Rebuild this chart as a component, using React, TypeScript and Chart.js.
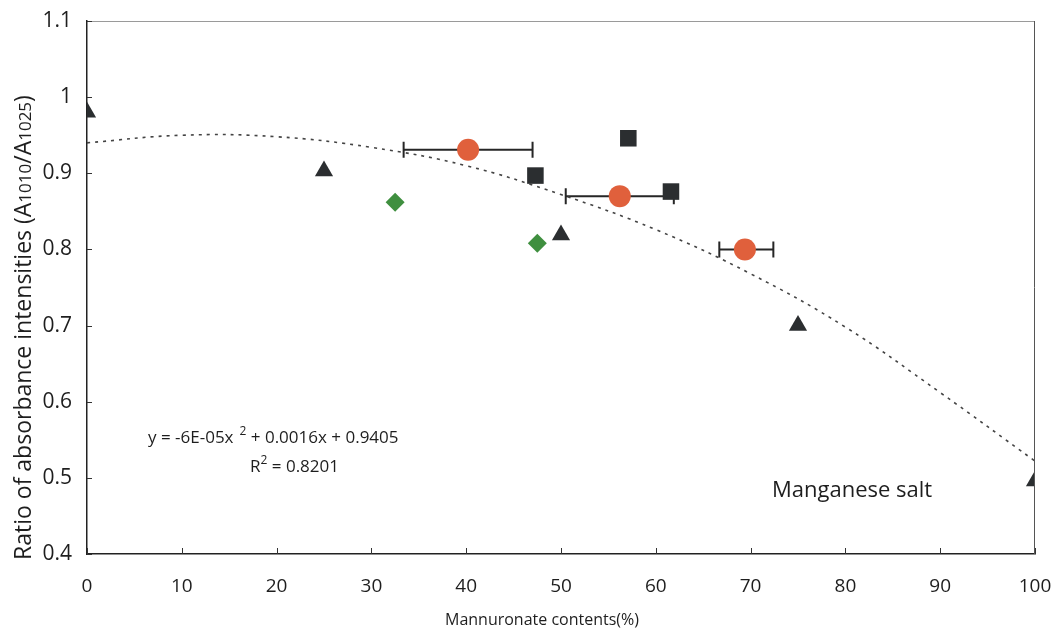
import React, { useEffect, useRef } from 'react';
import { Chart, registerables } from 'chart.js';

Chart.register(...registerables);

// ---- data ----
const triX = [0, 25, 50, 75, 100];
const triY = [0.98, 0.903, 0.819, 0.70, 0.496];

const sqX = [47.3, 57.1, 61.6];
const sqY = [0.897, 0.946, 0.876];

const diaX = [32.5, 47.5];
const diaY = [0.862, 0.808];

const circX = [40.2, 56.2, 69.4];
const circY = [0.931, 0.870, 0.800];
const errLow = [33.4, 50.5, 66.7];
const errHigh = [47.0, 61.9, 72.4];

const trendX = [0, 10, 20, 30, 40, 50, 60, 70, 80, 90, 100];
const trendY = [0.940, 0.950, 0.948, 0.934, 0.910, 0.872, 0.826, 0.768, 0.698, 0.612, 0.522];

const xMin = 0;
const xMax = 100;
const xStep = 10;
const yMin = 0.4;
const yMax = 1.1;
const yStep = 0.1;

const xTitle = 'Mannuronate contents(%)';
const yTitleParts: [string, boolean][] = [
  ['Ratio of absorbance intensities (A', false],
  ['1010', true],
  ['/A', false],
  ['1025', true],
  [')', false],
];
const eqMain = 'y = -6E-05x';
const eqRest = ' + 0.0016x + 0.9405';
const r2Rest = ' = 0.8201';
const note = 'Manganese salt';

const FONT = "'Open Sans', 'Noto Sans', sans-serif";

const pts = (xs: number[], ys: number[]) => xs.map((x, i) => ({ x, y: ys[i] }));

const decor = {
  id: 'decor',
  beforeDatasetsDraw(chart: any) {
    const { ctx, scales } = chart;
    const x = scales.x;
    const y = scales.y;
    ctx.save();
    ctx.strokeStyle = '#262626';
    ctx.lineWidth = 2;
    for (let i = 0; i < circX.length; i++) {
      const py = y.getPixelForValue(circY[i]);
      const x1 = x.getPixelForValue(errLow[i]);
      const x2 = x.getPixelForValue(errHigh[i]);
      ctx.beginPath();
      ctx.moveTo(x1, py);
      ctx.lineTo(x2, py);
      ctx.moveTo(x1, py - 8);
      ctx.lineTo(x1, py + 8);
      ctx.moveTo(x2, py - 8);
      ctx.lineTo(x2, py + 8);
      ctx.stroke();
    }
    ctx.restore();
  },
  afterDraw(chart: any) {
    const { ctx, chartArea: a, scales } = chart;
    const x = scales.x;
    const y = scales.y;
    ctx.save();
    // top & right frame
    ctx.lineWidth = 1;
    ctx.strokeStyle = '#9a9a9a';
    ctx.beginPath();
    ctx.moveTo(a.left, a.top + 0.5);
    ctx.lineTo(a.right, a.top + 0.5);
    ctx.stroke();
    ctx.strokeStyle = '#555';
    ctx.beginPath();
    ctx.moveTo(a.right - 0.5, a.top);
    ctx.lineTo(a.right - 0.5, a.bottom);
    ctx.stroke();
    // inward ticks
    ctx.strokeStyle = '#333';
    ctx.lineWidth = 1;
    ctx.beginPath();
    y.ticks.forEach((_t: any, i: number) => {
      const py = Math.round(y.getPixelForTick(i)) + 0.5;
      ctx.moveTo(a.left, py);
      ctx.lineTo(a.left + 5, py);
    });
    x.ticks.forEach((_t: any, i: number) => {
      const px = Math.round(x.getPixelForTick(i)) + 0.5;
      ctx.moveTo(px, a.bottom);
      ctx.lineTo(px, a.bottom - 6);
    });
    ctx.stroke();

    // y title (rotated, with small digits)
    ctx.fillStyle = '#1e1e1e';
    ctx.textBaseline = 'alphabetic';
    ctx.textAlign = 'left';
    ctx.translate(31, 560);
    ctx.rotate(-Math.PI / 2);
    let cx = 0;
    for (const [txt, small] of yTitleParts) {
      ctx.font = small ? `17px ${FONT}` : `23px ${FONT}`;
      ctx.fillText(txt, cx, 0);
      cx += ctx.measureText(txt).width;
    }
    ctx.setTransform(1, 0, 0, 1, 0, 0);

    // x title
    ctx.font = `16px ${FONT}`;
    ctx.textAlign = 'center';
    ctx.textBaseline = 'middle';
    ctx.fillText(xTitle, (a.left + a.right) / 2 - 19, 620);

    // equation
    ctx.textAlign = 'left';
    ctx.textBaseline = 'alphabetic';
    ctx.font = `17px ${FONT}`;
    let ex = 148;
    const ey = 443;
    ctx.fillText(eqMain, ex, ey);
    ex += ctx.measureText(eqMain).width + 6;
    ctx.font = `12px ${FONT}`;
    ctx.fillText('2', ex, ey - 8);
    ex += ctx.measureText('2').width;
    ctx.font = `17px ${FONT}`;
    ctx.fillText(eqRest, ex, ey);

    let rx = 250;
    const ry = 472;
    ctx.fillText('R', rx, ry);
    rx += ctx.measureText('R').width;
    ctx.font = `12px ${FONT}`;
    ctx.fillText('2', rx, ry - 8);
    rx += ctx.measureText('2').width;
    ctx.font = `17px ${FONT}`;
    ctx.fillText(r2Rest, rx, ry);

    // note
    ctx.font = `22px ${FONT}`;
    ctx.textBaseline = 'middle';
    ctx.fillText(note, 772, 491);
    ctx.restore();
  },
};

export default function App() {
  const ref = useRef<HTMLCanvasElement | null>(null);
  useEffect(() => {
    if (!ref.current) return;
    const dark = '#2b2e30';
    const chart = new Chart(ref.current, {
      type: 'scatter',
      data: {
        datasets: [
          {
            label: 'circles',
            data: pts(circX, circY),
            pointStyle: 'circle',
            pointRadius: 11,
            backgroundColor: '#e0603c',
            borderColor: '#e0603c',
            borderWidth: 0,
          },
          {
            label: 'triangles',
            data: pts(triX, triY),
            pointStyle: 'triangle',
            pointRadius: 10.5,
            backgroundColor: dark,
            borderColor: dark,
            borderWidth: 0,
          },
          {
            label: 'squares',
            data: pts(sqX, sqY),
            pointStyle: 'rect',
            pointRadius: 11.7,
            backgroundColor: dark,
            borderColor: dark,
            borderWidth: 0,
          },
          {
            label: 'diamonds',
            data: pts(diaX, diaY),
            pointStyle: 'rectRot',
            pointRadius: 9.5,
            backgroundColor: '#3f8f3f',
            borderColor: '#3f8f3f',
            borderWidth: 0,
          },
          {
            type: 'line',
            label: 'trend',
            data: pts(trendX, trendY),
            showLine: true,
            pointRadius: 0,
            borderColor: '#444',
            borderWidth: 1.6,
            borderDash: [3, 5],
            tension: 0.4,
            fill: false,
          } as any,
        ],
      },
      options: {
        animation: false,
        responsive: false,
        maintainAspectRatio: false,
        layout: { padding: { left: 0, top: 21, right: 19, bottom: 0 } },
        plugins: {
          legend: { display: false },
          tooltip: { enabled: false },
          title: { display: false },
        },
        scales: {
          x: {
            type: 'linear',
            min: xMin,
            max: xMax,
            grid: { display: false },
            border: { display: true, color: '#222', width: 1.5 },
            ticks: {
              stepSize: xStep,
              color: '#1e1e1e',
              font: { family: FONT, size: 19 },
              padding: 13,
              maxRotation: 0,
            },
            afterFit: (s: any) => {
              s.height = 78;
              s.paddingLeft = 0;
              s.paddingRight = 0;
            },
          },
          y: {
            type: 'linear',
            min: yMin,
            max: yMax,
            grid: { display: false },
            border: { display: true, color: '#222', width: 1.5 },
            ticks: {
              stepSize: yStep,
              color: '#1e1e1e',
              font: { family: FONT, size: 21 },
              padding: 7,
              callback: (v: any) => String(Number(Number(v).toFixed(1))),
            },
            afterFit: (s: any) => {
              s.width = 87;
              s.paddingTop = 0;
              s.paddingBottom = 0;
            },
          },
        },
      },
      plugins: [decor],
    });
    return () => chart.destroy();
  }, []);
  return (
    <div style={{ position: 'absolute', left: 0, top: 0, width: 1054, height: 632, background: '#fff' }}>
      <canvas ref={ref} width={1054} height={632} style={{ width: 1054, height: 632 }} />
    </div>
  );
}
